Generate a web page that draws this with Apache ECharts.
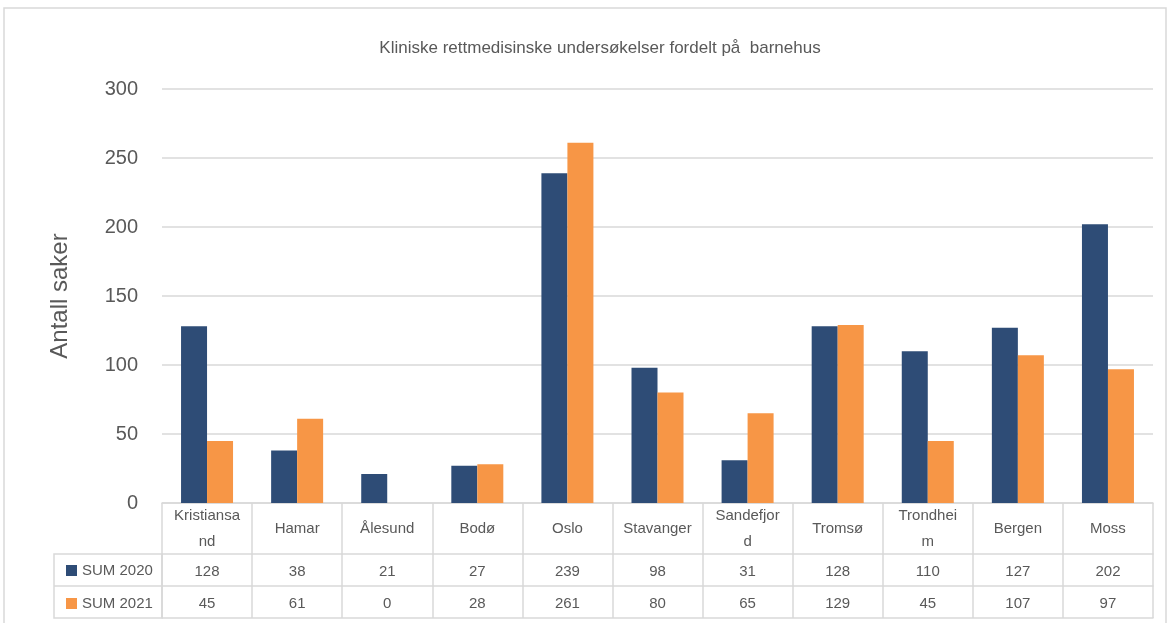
<!DOCTYPE html>
<html>
<head>
<meta charset="utf-8">
<script src="https://cdn.jsdelivr.net/npm/echarts@6/dist/echarts.min.js"></script>
<style>
  html, body { margin: 0; padding: 0; background: #fff; }
  #chart { width: 1170px; height: 623px; }
</style>
</head>
<body>
<div id="chart"></div>
<script>
  const categories = ['Kristiansand', 'Hamar', 'Ålesund', 'Bodø', 'Oslo', 'Stavanger', 'Sandefjord', 'Tromsø', 'Trondheim', 'Bergen', 'Moss']
  const sum2020 = [128, 38, 21, 27, 239, 98, 31, 128, 110, 127, 202]
  const sum2021 = [45, 61, 0, 28, 261, 80, 65, 129, 45, 107, 97]
  const seriesNames = ['SUM 2020', 'SUM 2021']
  const yTicks = [0, 300, 50]

  const textColor = '#595959'
  const lineColor = '#d9d9d9'
  const font = 'Liberation Sans, Arial, sans-serif'

  const chart = echarts.init(document.getElementById('chart'))

  // table rows are extra x axes pushed down with offset
  function rowAxis (offset, values) {
    return {
      type: 'category',
      data: categories,
      position: 'bottom',
      offset: offset,
      axisLine: {show: true, lineStyle: {color: lineColor, width: 1.5}},
      axisTick: {show: false},
      axisLabel: {
        show: !!values,
        interval: 0,
        margin: 18,
        verticalAlign: 'middle',
        color: textColor,
        fontSize: 15,
        fontFamily: font,
        formatter: function (v, i) { return values ? String(values[i]) : '' }
      },
      splitLine: {show: false}
    }
  }

  const option = {
    animation: false,
    title: {
      text: 'Kliniske rettmedisinske undersøkelser fordelt på  barnehus',
      left: 595,
      top: 35,
      textAlign: 'center',
      textStyle: {color: textColor, fontSize: 17, fontWeight: 'normal', fontFamily: font}
    },
    legend: {
      data: seriesNames,
      orient: 'vertical',
      left: 61,
      top: 558,
      height: 80,
      itemWidth: 11,
      itemHeight: 11,
      itemGap: 18,
      icon: 'rect',
      textStyle: {color: textColor, fontSize: 15, fontFamily: font}
    },
    grid: {left: 162, right: 17, top: 89, bottom: 120, containLabel: false},
    xAxis: [
      {
        type: 'category',
        data: categories,
        position: 'bottom',
        axisLine: {show: true, lineStyle: {color: lineColor, width: 1.5}},
        axisTick: {show: true, interval: 0, length: 115, lineStyle: {color: lineColor, width: 1.5}},
        axisLabel: {
          interval: 0,
          margin: 26,
          color: textColor,
          fontSize: 15,
          fontFamily: font,
          width: 70,
          overflow: 'breakAll',
          lineHeight: 26,
          verticalAlign: 'middle'
        }
      },
      rowAxis(51, sum2020),
      rowAxis(83, sum2021),
      rowAxis(115, null)
    ],
    yAxis: {
      type: 'value',
      min: yTicks[0],
      max: yTicks[1],
      interval: yTicks[2],
      name: 'Antall saker',
      nameLocation: 'middle',
      nameGap: 90,
      nameTextStyle: {color: textColor, fontSize: 24, fontFamily: font},
      axisLine: {show: false},
      axisTick: {show: false},
      axisLabel: {color: textColor, fontSize: 20, fontFamily: font, margin: 24},
      splitLine: {lineStyle: {color: lineColor, width: 1.5}}
    },
    series: [
      {
        name: seriesNames[0],
        type: 'bar',
        xAxisIndex: 0,
        data: sum2020,
        barWidth: 26,
        barGap: '0%',
        itemStyle: {color: '#2E4C76'}
      },
      {
        name: seriesNames[1],
        type: 'bar',
        xAxisIndex: 0,
        data: sum2021,
        barWidth: 26,
        barGap: '0%',
        itemStyle: {color: '#F79646'}
      }
    ],
    graphic: [
      // chart frame
      {type: 'rect', shape: {x: 4, y: 8, width: 1162, height: 640}, style: {fill: 'none', stroke: lineColor, lineWidth: 1.5}, z: -1},
      // legend column of the data table
      {type: 'rect', shape: {x: 54, y: 554, width: 108, height: 64}, style: {fill: 'none', stroke: lineColor, lineWidth: 1.5}},
      {type: 'line', shape: {x1: 54, y1: 586, x2: 162, y2: 586}, style: {stroke: lineColor, lineWidth: 1.5}}
    ]
  }
  chart.setOption(option)
</script>
</body>
</html>
